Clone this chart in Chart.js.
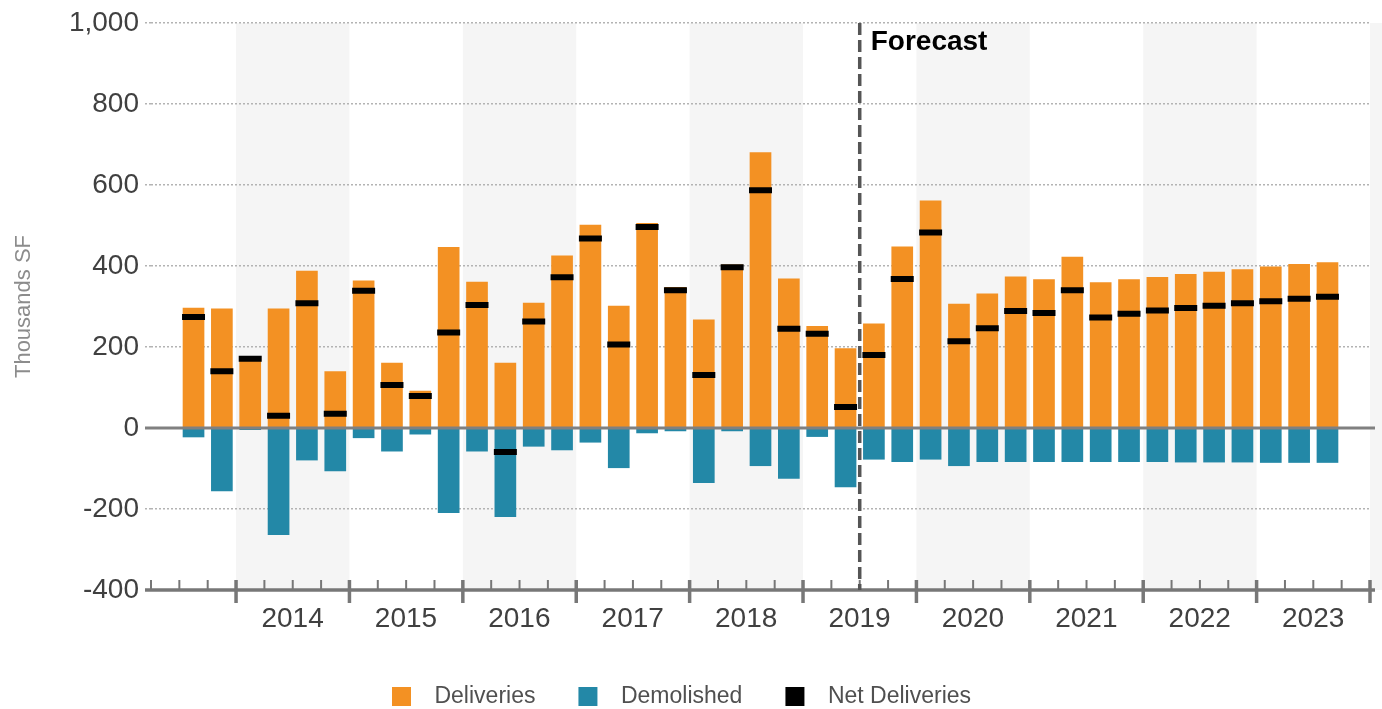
<!DOCTYPE html>
<html>
<head>
<meta charset="utf-8">
<title>Deliveries</title>
<script src="https://cdn.jsdelivr.net/npm/chart.js@4.4.1/dist/chart.umd.min.js"></script>
<style>
    html, body { margin: 0; padding: 0; background: #ffffff; }
    #wrap { width: 1382px; height: 709px; position: relative; }
</style>
</head>
<body>
<div id="wrap"><canvas id="deliveriesChart"></canvas></div>
<script>
// quarters on the axis (2013 Q2 and 2023 Q4 are empty slots)
const quarters = [
    '2013 Q2', '2013 Q3', '2013 Q4',
    '2014 Q1', '2014 Q2', '2014 Q3', '2014 Q4',
    '2015 Q1', '2015 Q2', '2015 Q3', '2015 Q4',
    '2016 Q1', '2016 Q2', '2016 Q3', '2016 Q4',
    '2017 Q1', '2017 Q2', '2017 Q3', '2017 Q4',
    '2018 Q1', '2018 Q2', '2018 Q3', '2018 Q4',
    '2019 Q1', '2019 Q2', '2019 Q3', '2019 Q4',
    '2020 Q1', '2020 Q2', '2020 Q3', '2020 Q4',
    '2021 Q1', '2021 Q2', '2021 Q3', '2021 Q4',
    '2022 Q1', '2022 Q2', '2022 Q3', '2022 Q4',
    '2023 Q1', '2023 Q2', '2023 Q3', '2023 Q4'
];
const yearLabels = ['2014', '2015', '2016', '2017', '2018', '2019', '2020', '2021', '2022', '2023'];
const shadedYears = ['2014', '2016', '2018', '2020', '2022', '2024'];
const forecastStart = '2019 Q3';

const deliveries = [null,
    297, 295, 176, 295, 388, 140, 364, 161, 92, 447, 361, 161,
    309, 426, 502, 302, 506, 348, 268, 404, 681, 369, 252, 197,
    258, 448, 562, 307, 332, 374, 367, 423, 360, 367, 373, 380, 386, 392, 399, 405, 409,
    null];
const demolished = [null,
    -23, -156, -5, -264, -80, -107, -25, -58, -16, -210, -58, -220,
    -46, -55, -36, -99, -13, -8, -136, -8, -94, -125, -22, -146,
    -78, -84, -78, -94, -84, -84, -84, -84, -84, -84, -84, -85, -85, -85, -86, -86, -86,
    null];
const netDeliveries = [null,
    274, 140, 171, 30, 308, 35, 339, 106, 79, 236, 304, -59,
    263, 372, 468, 206, 496, 340, 131, 397, 587, 245, 233, 52,
    180, 368, 483, 214, 246, 289, 284, 340, 273, 282, 290, 296, 302, 308, 313, 319, 324,
    null];

const FONT = '"Liberation Sans", Arial, sans-serif';
const seriesColors = ['#F39123', '#2388A7', '#000000'];

// legend swatch: transparent lead-in, square, then gap before the text
function swatch(color) {
    const c = document.createElement('canvas');
    c.width = 72;
    c.height = 19;
    const g = c.getContext('2d');
    g.fillStyle = color;
    g.fillRect(41, 0, 19, 19);
    return c;
}

const chartDecor = {
    id: 'chartDecor',
    afterLayout(chart) {
        // pull the legend row back so the visible swatches are centred
        chart.legend.left -= 24;
        chart.legend.right -= 24;
        chart.legend.top += 1;
        chart.legend.bottom += 1;
    },
    beforeDraw(chart) {
        const { ctx, chartArea, scales: { x } } = chart;
        const slot = x.getPixelForValue(1) - x.getPixelForValue(0);
        const edge = (label) => {
            const i = quarters.indexOf(label);
            return i < 0 ? x.getPixelForValue(quarters.length - 1) + slot / 2 : x.getPixelForValue(i) - slot / 2;
        };
        ctx.save();
        ctx.fillStyle = '#f5f5f5';
        shadedYears.forEach(function (yr) {
            const left = edge(yr + ' Q1');
            const right = Math.min(left + slot * 4, chart.width);
            ctx.fillRect(left, chartArea.top, right - left, chartArea.bottom - chartArea.top);
        });
        ctx.restore();
    },
    afterDatasetsDraw(chart) {
        const { ctx, chartArea, scales: { x, y } } = chart;
        const slot = x.getPixelForValue(1) - x.getPixelForValue(0);
        const n = quarters.length;
        const zeroY = y.getPixelForValue(0);
        const axisY = y.getPixelForValue(-400);

        ctx.save();
        ctx.strokeStyle = '#808080';
        ctx.lineWidth = 3;
        ctx.beginPath();
        ctx.moveTo(chartArea.left - 6, zeroY);
        ctx.lineTo(chartArea.right + 5, zeroY);
        ctx.stroke();

        ctx.strokeStyle = '#777777';
        ctx.lineWidth = 3.5;
        ctx.beginPath();
        ctx.moveTo(chartArea.left - 6, axisY);
        ctx.lineTo(chartArea.right + 5, axisY);
        ctx.stroke();

        for (let i = 0; i <= n; i++) {
            const bx = i < n ? x.getPixelForValue(i) - slot / 2 : x.getPixelForValue(n - 1) + slot / 2;
            const major = i === n || quarters[i].endsWith('Q1');
            ctx.lineWidth = major ? 3.5 : 2;
            ctx.beginPath();
            ctx.moveTo(bx, axisY - 10);
            ctx.lineTo(bx, major ? axisY + 13 : axisY);
            ctx.stroke();
        }

        const fx = x.getPixelForValue(quarters.indexOf(forecastStart)) - slot / 2;
        ctx.strokeStyle = '#555555';
        ctx.lineWidth = 3.5;
        ctx.setLineDash([12, 5]);
        ctx.beginPath();
        ctx.moveTo(fx, chartArea.top);
        ctx.lineTo(fx, axisY);
        ctx.stroke();
        ctx.setLineDash([]);

        ctx.fillStyle = '#000000';
        ctx.font = 'bold 28px ' + FONT;
        ctx.textAlign = 'left';
        ctx.textBaseline = 'alphabetic';
        ctx.fillText('Forecast', fx + 11, chartArea.top + 27);
        ctx.restore();
    }
};

const ctx = document.getElementById('deliveriesChart').getContext('2d');
const deliveriesChart = new Chart(ctx, {
    type: 'bar',
    data: {
        labels: quarters,
        datasets: [{
            label: 'Deliveries',
            data: deliveries,
            backgroundColor: seriesColors[0],
            grouped: false,
            barPercentage: 0.765,
            categoryPercentage: 1
        }, {
            label: 'Demolished',
            data: demolished,
            backgroundColor: seriesColors[1],
            grouped: false,
            barPercentage: 0.765,
            categoryPercentage: 1
        }, {
            type: 'line',
            label: 'Net Deliveries',
            data: netDeliveries,
            order: -1,
            showLine: false,
            pointStyle: 'line',
            pointRadius: 11.5,
            pointHoverRadius: 11.5,
            pointBorderWidth: 6,
            pointHoverBorderWidth: 6,
            pointBorderColor: '#000000',
            pointBackgroundColor: '#000000'
        }]
    },
    options: {
        responsive: true,
        maintainAspectRatio: false,
        animation: false,
        devicePixelRatio: 1,
        layout: {
            autoPadding: false,
            padding: { top: 23, right: 12, bottom: 0, left: 0 }
        },
        scales: {
            x: {
                offset: true,
                grid: { display: false, drawTicks: false },
                border: { display: false },
                ticks: {
                    autoSkip: false,
                    maxRotation: 0,
                    minRotation: 0,
                    labelOffset: 14,
                    padding: 12,
                    color: '#404040',
                    font: { family: FONT, size: 28 },
                    callback: function (value, index) {
                        const parts = quarters[index].split(' ');
                        return (parts[1] === 'Q2' && yearLabels.includes(parts[0])) ? parts[0] : '';
                    }
                },
                afterFit: function (scale) {
                    scale.height = 92;
                    scale.paddingLeft = 0;
                    scale.paddingRight = 0;
                }
            },
            y: {
                min: -400,
                max: 1000,
                ticks: {
                    stepSize: 200,
                    padding: 6,
                    color: '#404040',
                    font: { family: FONT, size: 28 },
                    callback: function (value) { return value.toLocaleString('en-US'); }
                },
                grid: {
                    color: function (c) {
                        return (c.tick && (c.tick.value === 0 || c.tick.value === -400)) ? 'rgba(0,0,0,0)' : '#b3b3b3';
                    },
                    lineWidth: 1.5,
                    tickLength: 6,
                    tickBorderDash: [2, 2]
                },
                border: { display: false, dash: [2, 2] },
                title: {
                    display: true,
                    text: 'Thousands SF',
                    color: '#8c8c8c',
                    font: { family: FONT, size: 22 },
                    padding: { top: 11, bottom: 0 }
                },
                afterFit: function (scale) { scale.width = 151; }
            }
        },
        plugins: {
            tooltip: { enabled: false },
            legend: {
                position: 'bottom',
                maxHeight: 27,
                labels: {
                    usePointStyle: true,
                    pointStyleWidth: 72,
                    boxHeight: 19,
                    padding: 2,
                    color: '#505050',
                    font: { family: FONT, size: 23 },
                    generateLabels: function (chart) {
                        return chart.data.datasets.map(function (ds, i) {
                            return {
                                text: ds.label,
                                pointStyle: swatch(seriesColors[i]),
                                fillStyle: seriesColors[i],
                                strokeStyle: 'rgba(0,0,0,0)',
                                lineWidth: 0,
                                hidden: false,
                                datasetIndex: i,
                                fontColor: '#505050'
                            };
                        });
                    }
                }
            }
        }
    },
    plugins: [chartDecor]
});
</script>
</body>
</html>
